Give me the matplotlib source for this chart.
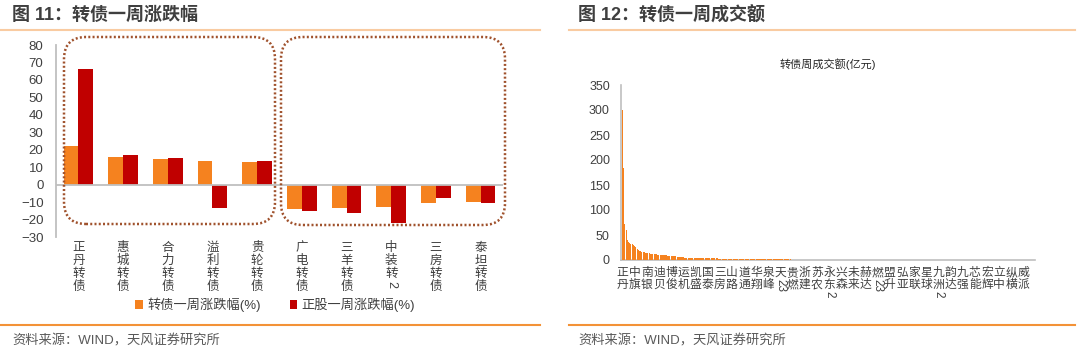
import numpy as np
import matplotlib.pyplot as plt
from matplotlib.patches import FancyBboxPatch
from matplotlib.lines import Line2D
from matplotlib.transforms import IdentityTransform, blended_transform_factory

plt.rcParams['font.family'] = ['Liberation Sans', 'Noto Sans CJK SC']

# ---- left chart: weekly change (%) ----
cb_names = ['正丹转债', '惠城转债', '合力转债', '溢利转债', '贵轮转债',
            '广电转债', '三羊转债', '中装转2', '三房转债', '泰坦转债']
cb_chg = [22.3, 16.0, 14.7, 13.7, 13.0, -13.7, -13.3, -12.8, -10.5, -9.7]
stk_chg = [66.3, 16.8, 15.4, -13.5, 13.7, -15.2, -16.4, -21.9, -7.6, -10.7]

# ---- right chart: weekly turnover (100m yuan), sorted ----
tick_names = ['正丹', '中旗', '南银', '迪贝', '博俊', '运机', '凯盛', '国泰', '三房',
              '山路', '道通', '华翔', '泉峰', '天23', '贵燃', '浙建', '苏农', '永东2',
              '兴森', '未来', '赫达', '燃23', '盟升', '弘亚', '家联', '星球', '九洲2',
              '韵达', '九强', '芯能', '宏辉', '立中', '纵横', '威派']
turnover = [
    301, 185, 72, 60, 40, 37, 35, 33, 32, 31, 28, 26, 22, 20, 19, 18, 16.5, 16, 15.5, 15,
    14.5, 14, 13.5, 13, 12.8, 12.5, 12, 11.8, 11.5, 11, 10.5, 10.2, 10, 9.8, 9.6, 9.4, 9.2, 9, 8.8, 8.6,
    8.4, 8.2, 8, 7.8, 7.4, 7, 6.6, 6.2, 5.8, 5.5, 5.2, 5, 4.8, 4.6, 4.5, 4.4, 4.3, 4.2, 4.2, 4.1,
    4, 4, 3.9, 3.9, 3.8, 3.8, 3.7, 3.7, 3.6, 3.6, 3.5, 3.5, 3.4, 3.4, 3.3, 3.3, 3.2, 3.2, 3.1, 3.0,
    2.8, 2.6, 2.4, 2.3, 2.2, 2.1, 2.1, 2.0, 2.0, 1.9, 1.9, 1.9, 1.8, 1.8, 1.8, 1.8, 1.7, 1.7, 1.7, 1.7,
    1.6, 1.6, 1.6, 1.6, 1.6, 1.5, 1.5, 1.5, 1.5, 1.5, 1.4, 1.4, 1.4, 1.4, 1.4, 1.4, 1.3, 1.3, 1.3, 1.3,
    1.3, 1.3, 1.3, 1.2, 1.2, 1.2, 1.2, 1.2, 1.2, 1.2, 1.2, 1.1, 1.1, 1.1, 1.1, 1.1, 1.1, 1.1, 1.1, 1.0,
    1.0, 1.0, 1.0, 1.0, 1.0, 1.0, 1.0, 1.0, 1.0, 0.9, 0.9, 0.9, 0.9, 0.9, 0.9, 0.9, 0.9, 0.9, 0.9, 0.9,
    0.9, 0.9, 0.8, 0.8, 0.8, 0.8, 0.8, 0.8, 0.8, 0.8, 0.8, 0.8, 0.8, 0.8, 0.8, 0.8, 0.8, 0.7, 0.7, 0.7,
    0.7, 0.7, 0.7, 0.7, 0.7, 0.7, 0.7, 0.7, 0.7, 0.7, 0.6, 0.6, 0.6, 0.6, 0.6, 0.6, 0.6, 0.6, 0.6, 0.6,
    0.6, 0.5, 0.5, 0.5, 0.5, 0.5, 0.5, 0.5, 0.5, 0.5, 0.5, 0.5, 0.5, 0.4, 0.4, 0.4, 0.4, 0.4, 0.4, 0.0,
    0, 0, 0, 0, 0, 0, 0, 0, 0, 0, 0, 0, 0, 0, 0, 0, 0, 0, 0, 0,
    0, 0, 0, 0, 0, 0, 0, 0, 0, 0, 0, 0, 0, 0, 0, 0, 0, 0, 0, 0,
    0, 0, 0, 0, 0, 0, 0, 0, 0, 0, 0, 0, 0, 0, 0, 0, 0, 0, 0, 0,
    0, 0, 0, 0, 0, 0, 0, 0, 0, 0, 0, 0, 0, 0, 0, 0, 0, 0, 0, 0,
    0, 0, 0, 0, 0, 0, 0, 0, 0, 0, 0, 0, 0, 0, 0, 0, 0, 0, 0, 0,
    0, 0, 0, 0, 0, 0, 0, 0, 0, 0, 0, 0, 0, 0, 0, 0, 0, 0, 0, 0,
]

W, H = 1080, 357
orange = '#F5821F'
red = '#C00000'
grey = '#BFBFBF'
txt = '#404040'

fig = plt.figure(figsize=(W / 100, H / 100), dpi=100)


def fx(px):
    return px / W


def fy(py):
    return 1 - py / H


def vertical_label(ax, xpos, name, top_pt, step_pt, size):
    # stacked CJK characters, digit runs rotated like Word's vertical text
    trans = blended_transform_factory(ax.transData, ax.transAxes)
    y = -top_pt
    i = 0
    while i < len(name):
        ch = name[i]
        if ch.isdigit():
            run = ch
            while i + 1 < len(name) and name[i + 1].isdigit():
                i += 1
                run += name[i]
            h = 0.58 * size * len(run)
            ax.annotate(run, xy=(xpos, 0), xycoords=trans, xytext=(0, y - h / 2),
                        textcoords='offset points', ha='center', va='center',
                        rotation=-90, fontsize=size, color=txt)
            y -= h + 1
        else:
            ax.annotate(ch, xy=(xpos, 0), xycoords=trans, xytext=(0, y),
                        textcoords='offset points', ha='center', va='top',
                        fontsize=size, color=txt)
            y -= step_pt
        i += 1


# ---------------- left chart ----------------
ax1 = fig.add_axes([fx(56), fy(237), fx(503) - fx(56), fy(45) - fy(237)])
x = np.arange(len(cb_names))
bw = 0.33
ax1.bar(x - bw / 2, cb_chg, bw, color=orange, label='转债一周涨跌幅(%)', zorder=2)
ax1.bar(x + bw / 2, stk_chg, bw, color=red, label='正股一周涨跌幅(%)', zorder=2)
ax1.axhline(0, color=grey, lw=1.3, zorder=3)
ax1.set_xlim(-0.5, len(cb_names) - 0.5)
ax1.set_ylim(-30, 80)
ax1.set_yticks(np.arange(-30, 81, 10))
ax1.set_xticks([])
for s in ['top', 'right', 'bottom']:
    ax1.spines[s].set_visible(False)
ax1.spines['left'].set_color(grey)
ax1.spines['left'].set_linewidth(1.3)
ax1.tick_params(axis='y', length=0, pad=9, labelsize=9.5, labelcolor=txt)
for xi, n in zip(x, cb_names):
    vertical_label(ax1, xi, n, 3.5, 9.4, 9)

# dotted rounded boxes (pixel coordinates)
for (x0, y0, x1, y1) in [(64, 37, 275, 224), (281, 37, 505, 225)]:
    box = FancyBboxPatch((x0 + 22, H - y1 + 22), (x1 - x0) - 44, (y1 - y0) - 44,
                         boxstyle='round,pad=22,rounding_size=22',
                         transform=IdentityTransform(), fill=False,
                         edgecolor='#A0522D', linestyle=(0, (0.8, 0.9)), lw=1.8)
    fig.patches.append(box)

fig.legend(*ax1.get_legend_handles_labels(), loc='center', bbox_to_anchor=(fx(275), fy(305)),
           ncol=2, frameon=False, fontsize=9.5, handlelength=0.6, handleheight=0.6,
           handletextpad=0.3, columnspacing=2.2, labelcolor=txt)

# ---------------- right chart ----------------
ax2 = fig.add_axes([fx(621), fy(260), fx(1035) - fx(621), fy(85) - fy(260)])
xb = np.arange(len(turnover))
ax2.bar(xb, turnover, 0.85, color=orange, linewidth=0, zorder=2)
ax2.set_xlim(-1.2, len(turnover) - 0.5)
ax2.set_ylim(0, 350)
ax2.set_yticks(np.arange(0, 351, 50))
ax2.set_xticks([])
for s in ['top', 'right']:
    ax2.spines[s].set_visible(False)
for s in ['left', 'bottom']:
    ax2.spines[s].set_color(grey)
    ax2.spines[s].set_linewidth(1.2)
    ax2.spines[s].set_zorder(1)
ax2.tick_params(axis='y', length=0, pad=8, labelsize=9, labelcolor=txt)
for k, n in enumerate(tick_names):
    vertical_label(ax2, k * 10, n, 5, 8.7, 8.5)
ax2.set_title('转债周成交额(亿元)', fontsize=8, color='#262626', pad=12)

# ---------------- titles, rules, sources ----------------
fig.text(fx(12), fy(15), '图 11：转债一周涨跌幅', fontsize=13, fontweight='bold',
         color='#3F3F3F', va='center', ha='left')
fig.text(fx(578), fy(15), '图 12：转债一周成交额', fontsize=13, fontweight='bold',
         color='#3F3F3F', va='center', ha='left')
for (a, b) in [(0, 540), (569, 1075)]:
    fig.add_artist(Line2D([fx(a), fx(b)], [fy(30), fy(30)], color='#F9CBA1', lw=1.5))
    fig.add_artist(Line2D([fx(a), fx(b)], [fy(325), fy(325)], color='#F39237', lw=1.5))
fig.text(fx(12), fy(341), '资料来源：WIND，天风证券研究所', fontsize=9.5, color='#595959',
         va='center', ha='left')
fig.text(fx(578), fy(341), '资料来源：WIND，天风证券研究所', fontsize=9.5, color='#595959',
         va='center', ha='left')

fig.savefig('out.png', dpi=100)
